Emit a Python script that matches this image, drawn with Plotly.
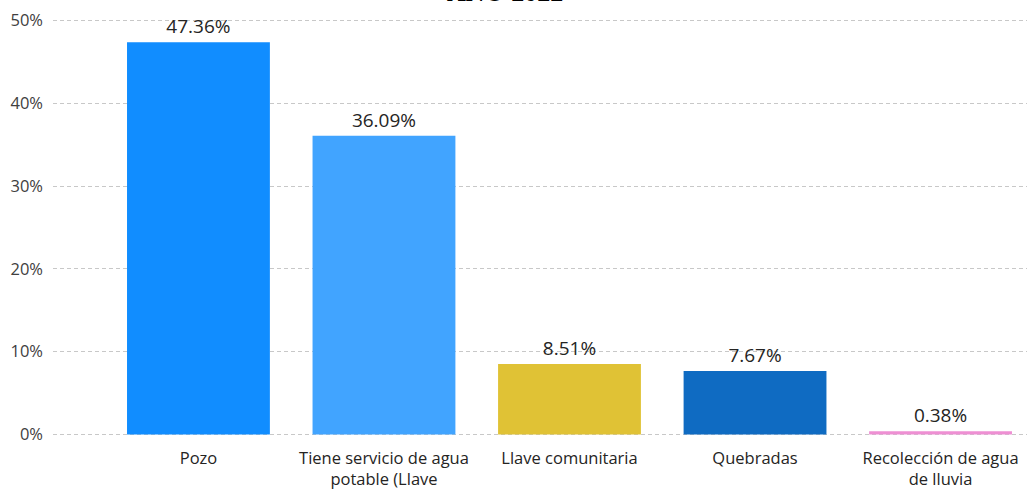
import plotly.graph_objects as go

categories = ["Pozo", "Tiene servicio de agua<br>potable (Llave", "Llave comunitaria",
              "Quebradas", "Recolección de agua<br>de lluvia"]
values = [47.36, 36.09, 8.51, 7.67, 0.38]
labels = ["47.36%", "36.09%", "8.51%", "7.67%", "0.38%"]
colors = ["#118DFF", "#41A4FF", "#E0C235", "#0F6BC2", "#EE8FD3"]
yticks = [0, 10, 20, 30, 40, 50]
yticklabels = ["0%", "10%", "20%", "30%", "40%", "50%"]

fig = go.Figure(go.Bar(
    x=list(range(len(categories))), y=values, marker_color=colors,
    marker_line_width=0,
    text=labels, textposition="outside", cliponaxis=False,
    textfont=dict(family="Open Sans, Segoe UI, sans-serif", size=19, color="#252423"),
))

fig.update_layout(
    width=1027, height=489,
    margin=dict(l=53, r=0, t=18, b=52),
    plot_bgcolor="white", paper_bgcolor="white",
    bargap=0.23, showlegend=False,
    font=dict(family="Open Sans, Segoe UI, sans-serif", color="#252423"),
    xaxis=dict(range=[-0.784, 4.466], tickmode="array", automargin=False,
               tickvals=list(range(len(categories))), ticktext=categories,
               showgrid=False, zeroline=False, showline=False, ticks="",
               ticklabelstandoff=9,
               tickfont=dict(size=16.5, color="#252423")),
    yaxis=dict(range=[-0.3, 50.3], tickmode="array", tickvals=yticks, ticktext=yticklabels,
               automargin=False,
               showgrid=True, gridcolor="#C8C8C8", griddash="4px,3px", gridwidth=1,
               zeroline=False, showline=False, ticks="", ticklabelstandoff=9,
               tickfont=dict(size=16.5, color="#404040")),
    annotations=[dict(text="<b>AÑO 2022</b>", xref="paper", yref="paper",
                      x=0.464, y=1.0, yshift=8.5, xanchor="center", yanchor="bottom",
                      showarrow=False,
                      font=dict(family="Liberation Serif, Times New Roman, serif",
                                size=26, color="black"))],
)

fig.write_html("out.html", config={"displayModeBar": False},
               post_script="document.body.style.margin='0';document.body.style.overflow='hidden';")
